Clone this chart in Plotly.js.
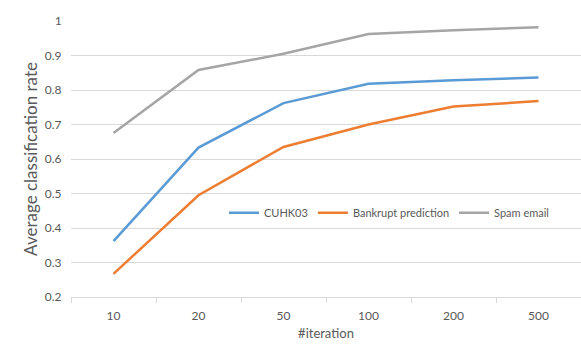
<!DOCTYPE html>
<html>
<head>
<meta charset="utf-8">
<script src="https://cdn.plot.ly/plotly-3.0.1.min.js"></script>
<style>
  html, body { margin: 0; padding: 0; background: #fff; }
  #chart { width: 581px; height: 351px; }
</style>
</head>
<body>
<div id="chart"></div>
<script>
// iterations on the x axis (categorical)
var iterations = ["10", "20", "50", "100", "200", "500"];

// average classification rate per data set
var cuhk03 = [0.362, 0.633, 0.762, 0.818, 0.828, 0.836];
var bankrupt = [0.267, 0.495, 0.635, 0.700, 0.752, 0.768];
var spamEmail = [0.675, 0.858, 0.905, 0.962, 0.973, 0.982];

var textGrey = "#595959";
var gridGrey = "#d9d9d9";

function series(name, values, color) {
    return {
        x: iterations,
        y: values,
        name: name,
        type: "scatter",
        mode: "lines",
        line: {color: color, width: 2.5}
    };
}

var traces = [
    series("CUHK03", cuhk03, "#5b9bd5"),
    series("Bankrupt prediction", bankrupt, "#ed7d31"),
    series("Spam email", spamEmail, "#a5a5a5")
];

var layout = {
    width: 581,
    height: 351,
    margin: {l: 71, r: 0, t: 21, b: 54},
    paper_bgcolor: "#fff",
    plot_bgcolor: "#fff",
    font: {family: "Lato, 'Open Sans', sans-serif", size: 11, color: textGrey},
    showlegend: true,
    legend: {
        orientation: "h",
        x: 0.30, y: 0.305,
        xanchor: "left", yanchor: "middle",
        bgcolor: "rgba(0,0,0,0)",
        font: {size: 11, color: textGrey},
        itemwidth: 30
    },
    xaxis: {
        type: "category",
        range: [-0.5, 5.5],
        tickson: "boundaries",
        ticks: "outside",
        ticklen: 5,
        tickcolor: gridGrey,
        ticklabelstandoff: 8,
        tickfont: {size: 12},
        showline: true,
        linecolor: gridGrey,
        showgrid: false,
        title: {text: "#iteration", font: {size: 13, color: textGrey}, standoff: 6}
    },
    yaxis: {
        range: [0.2, 1],
        dtick: 0.1,
        tick0: 0.2,
        showgrid: true,
        gridcolor: gridGrey,
        gridwidth: 1,
        zeroline: false,
        ticks: "outside",
        ticklen: 6,
        tickcolor: "rgba(0,0,0,0)",
        tickfont: {size: 12},
        automargin: true,
        title: {text: "Average classification rate", font: {size: 17, color: textGrey}, standoff: 2}
    }
};

Plotly.newPlot("chart", traces, layout, {displayModeBar: false, staticPlot: true});
</script>
</body>
</html>
